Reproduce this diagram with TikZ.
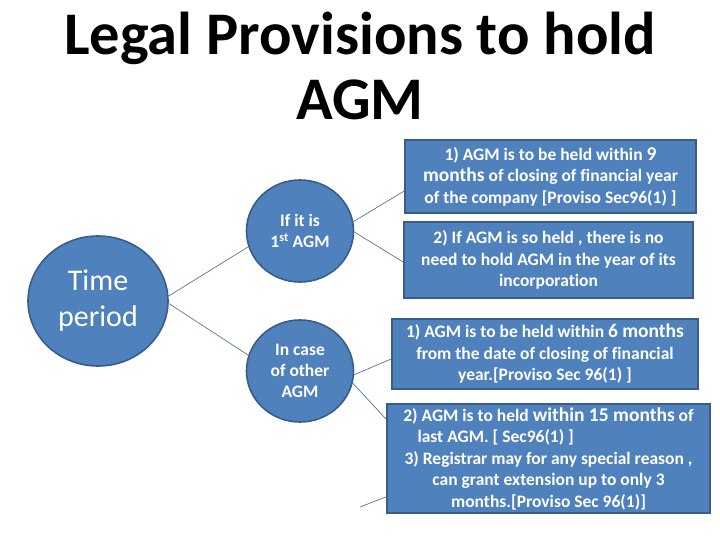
\documentclass[tikz,border=0pt]{standalone}
\usepackage{fontspec}
\setmainfont{Carlito}[Ligatures=NoCommon]
\usetikzlibrary{shapes.geometric}
\definecolor{boxblue}{HTML}{4F81BD}
\definecolor{rimblue}{HTML}{385D8A}
\definecolor{wire}{HTML}{5B7595}
\newcommand{\hilite}[1]{{\fontsize{19.5}{21}\selectfont #1}}

\begin{document}
\begin{tikzpicture}[
  x=1pt, y=-1pt,
  title/.style={font=\fontsize{60.5}{65}\selectfont\bfseries, align=center, inner sep=0pt},
  hub/.style={ellipse, draw=rimblue, fill=boxblue, line width=1.6pt, text=white,
              minimum width=140pt, minimum height=130pt, inner sep=0pt, align=center,
              font=\fontsize{30}{36}\selectfont},
  case/.style={ellipse, draw=rimblue, fill=boxblue, line width=1.6pt, text=white,
               minimum width=107pt, minimum height=102pt, inner sep=0pt, align=center,
               font=\fontsize{17.5}{21}\selectfont\bfseries},
  rule/.style={rectangle, draw=rimblue, fill=boxblue, line width=1.6pt, text=white,
               inner sep=0pt, align=center, font=\fontsize{17.5}{21.5}\selectfont\bfseries},
  link/.style={draw=wire, line width=0.7pt},
]
\useasboundingbox (0,0) rectangle (720,540);
\fill[white] (0,0) rectangle (720,540);

\node[title] (head) at (360,66) {Legal Provisions to hold\\AGM};

\node[hub]  (time)  at (98,301)  {Time\\period};
\node[case] (first) at (300,231) {If it is\\1\textsuperscript{st} AGM};
\node[case] (other) at (300,371) {In case\\of other\\AGM};

\node[rule, minimum width=291pt, minimum height=73pt] (nine) at (550.5,176.5)
  {1) AGM is to be held within \hilite{9}\\\hilite{months} of closing of financial year\\of the company [Proviso Sec96(1) ]};
\node[rule, minimum width=289pt, minimum height=76pt] (inc) at (548.5,260)
  {2) If AGM is so held , there is no\\need to hold AGM in the year of its\\incorporation};
\node[rule, minimum width=306pt, minimum height=70pt] (six) at (545,354)
  {1) AGM is to be held within \hilite{6 months}\\from the date of closing of financial\\year.[Proviso Sec 96(1) ]};
\node[rule, minimum width=323pt, minimum height=109pt] (fifteen) at (548.5,458.5)
  {2) AGM is to held \hilite{within 15 months} of\\\makebox[302pt][l]{\hspace*{20pt}last AGM. [ Sec96(1) ]}\\3) Registrar may for any special reason ,\\can grant extension up to only 3\\months.[Proviso Sec 96(1)]};

\coordinate (loose) at (360,507);

\draw[link] (time.4) -- (first.197);
\draw[link] (time.-2) -- (other.163);
\draw[link] (first.10) -- ([yshift=-14.5pt]nine.west);
\draw[link] (first.-1) -- ([yshift=-2pt]inc.west);
\draw[link] (other.-4) -- ([yshift=-5pt]six.west);
\draw[link] (other.-13) -- ([yshift=-16pt]fifteen.north west);
\draw[link] (loose) -- ([yshift=17pt]fifteen.south west);

\end{tikzpicture}
\end{document}
